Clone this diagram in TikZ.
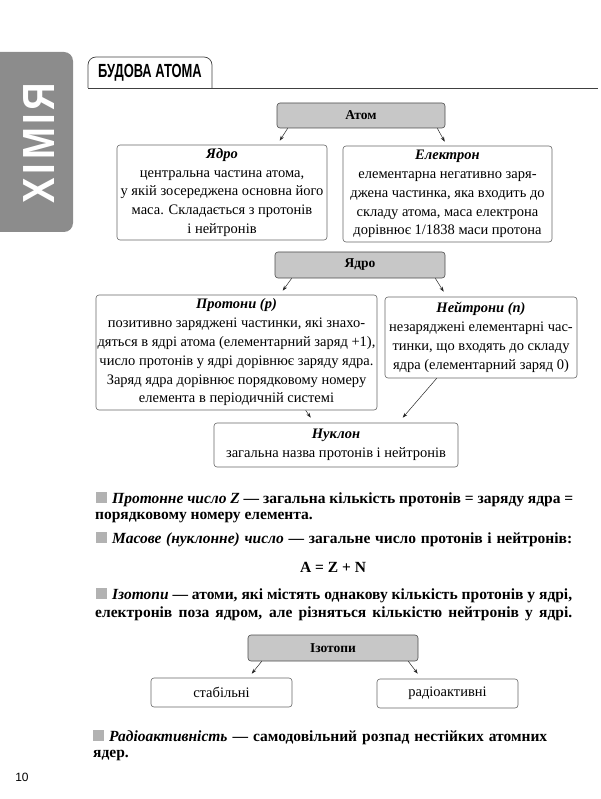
\documentclass[tikz,border=0pt]{standalone}
\usepackage{fontspec}
\setmainfont{Liberation Serif}
\setsansfont{Liberation Sans}
\newfontfamily\headfont[FakeStretch=0.68]{Liberation Sans}
\newfontfamily\sidefont[FakeStretch=0.85,LetterSpace=8]{Liberation Sans}
\usetikzlibrary{arrows.meta}

\tikzset{
  graybox/.style={draw=black!70, fill=black!22, rounded corners=3pt, line width=0.6pt, inner sep=0pt, font=\fontsize{13.5}{15}\selectfont\bfseries},
  whitebox/.style={draw=black!60, fill=white, rounded corners=3pt, line width=0.6pt, inner sep=0pt, align=center, font=\fontsize{14.5}{18.8}\selectfont},
  arr/.style={-{Stealth[length=5pt,width=3.5pt]}, line width=0.5pt, black!85},
  para/.style={inner sep=0pt, font=\fontsize{15.5}{18}\selectfont\bfseries},
  bullet/.style={fill=black!30}
}

\begin{document}
\begin{tikzpicture}[x=1pt,y=-1pt]

\useasboundingbox (0,0) rectangle (600,799);

\fill[black!45, rounded corners=9pt] (-12,52) rectangle (73,232);
\node[rotate=90, text=white, inner sep=0pt, font=\sidefont\bfseries\fontsize{45}{45}\selectfont] (subject) at (39,143) {ХІМІЯ};

\draw[black!75, line width=0.7pt, rounded corners=8pt] (88,88) -- (88,57) -- (212,57) -- (212,88);
\draw[black!75, line width=0.7pt] (88,88) -- (598,88);
\node[inner sep=0pt, font=\headfont\bfseries\fontsize{19}{19}\selectfont] (title) at (150,73) {БУДОВА АТОМА};

\node[graybox, minimum width=168pt, minimum height=25pt] (atom) at (361,115.5) {Атом};
\node[whitebox, minimum width=210pt, minimum height=95pt] (yadro) at (222,192.5) {\textbf{\textit{Ядро}}\\центральна частина атома,\\у якій зосереджена основна його\\маса. Складається з протонів\\і нейтронів};
\node[whitebox, minimum width=209pt, minimum height=96pt] (elektron) at (447.5,194) {\textbf{\textit{Електрон}}\\елементарна негативно заря-\\джена частинка, яка входить до\\складу атома, маса електрона\\дорівнює 1/1838 маси протона};

\draw[arr] ([xshift=11pt]atom.south west) -- ([xshift=163pt,yshift=4pt]yadro.north west);
\draw[arr] ([xshift=-8pt]atom.south east) -- ([xshift=102pt,yshift=4pt]elektron.north west);

\node[graybox, minimum width=170pt, minimum height=26pt] (yadrotop) at (360,265) {Ядро};
\node[whitebox, minimum width=281pt, minimum height=115pt] (protony) at (236.5,352.5) {\textbf{\textit{Протони (p)}}\\позитивно заряджені частинки, які знахо-\\дяться в ядрі атома (елементарний заряд +1),\\число протонів у ядрі дорівнює заряду ядра.\\Заряд ядра дорівнює порядковому номеру\\елемента в періодичній системі};
\node[whitebox, minimum width=192pt, minimum height=81pt] (neitrony) at (481,337.5) {\textbf{\textit{Нейтрони (n)}}\\незаряджені елементарні час-\\тинки, що входять до складу\\ядра (елементарний заряд 0)};

\draw[arr] ([xshift=17pt]yadrotop.south west) -- ([xshift=187pt,yshift=4pt]protony.north west);
\draw[arr] ([xshift=-10pt]yadrotop.south east) -- ([xshift=59pt,yshift=5pt]neitrony.north west);

\node[whitebox, minimum width=244pt, minimum height=44pt] (nuklon) at (336,445) {\textbf{\textit{Нуклон}}\\загальна назва протонів і нейтронів};

\draw[arr] ([xshift=210pt]protony.south west) -- ([xshift=97pt,yshift=5pt]nuklon.north west);
\draw[arr] ([xshift=52pt]neitrony.south west) -- ([xshift=189pt,yshift=5pt]nuklon.north west);

\fill[bullet] (96,492) rectangle (107,503);
\node[para, anchor=base west] (zline1) at (112,503) {\makebox[461pt][s]{\textit{Протонне число Z} — загальна кількість протонів = заряду ядра =}};
\node[para, anchor=base west] (zline2) at (95,519) {порядковому номеру елемента.};

\fill[bullet] (96,532) rectangle (107,543);
\node[para, anchor=base west] (aline1) at (112,543) {\makebox[460pt][s]{\textit{Масове (нуклонне) число} — загальне число протонів і нейтронів:}};
\node[para, anchor=base] (formula) at (333,572) {A = Z + N};

\fill[bullet] (96,588) rectangle (107,599);
\node[para, anchor=base west] (iline1) at (112,599) {\makebox[460pt][s]{\textit{Ізотопи} — атоми, які містять однакову кількість протонів у ядрі,}};
\node[para, anchor=base west] (iline2) at (95,617) {\makebox[477pt][s]{електронів поза ядром, але різняться кількістю нейтронів у ядрі.}};

\node[graybox, minimum width=170pt, minimum height=26pt] (izotopy) at (333,648) {Ізотопи};
\node[whitebox, minimum width=141pt, minimum height=29pt] (stabilni) at (221.5,692.5) {стабільні};
\node[whitebox, minimum width=141pt, minimum height=29pt] (radio) at (447.5,693.5) {радіоактивні};

\draw[arr] ([xshift=14pt]izotopy.south west) -- ([xshift=101pt,yshift=4pt]stabilni.north west);
\draw[arr] ([xshift=-10pt]izotopy.south east) -- ([xshift=41pt,yshift=5pt]radio.north west);

\fill[bullet] (93,730) rectangle (104,741);
\node[para, anchor=base west] (rline1) at (109,741) {\makebox[438pt][s]{\textit{Радіоактивність} — самодовільний розпад нестійких атомних}};
\node[para, anchor=base west] (rline2) at (93,757) {ядер.};

\node[anchor=base, inner sep=0pt, font=\sffamily\fontsize{12}{12}\selectfont] (page) at (22,781) {10};

\end{tikzpicture}
\end{document}
